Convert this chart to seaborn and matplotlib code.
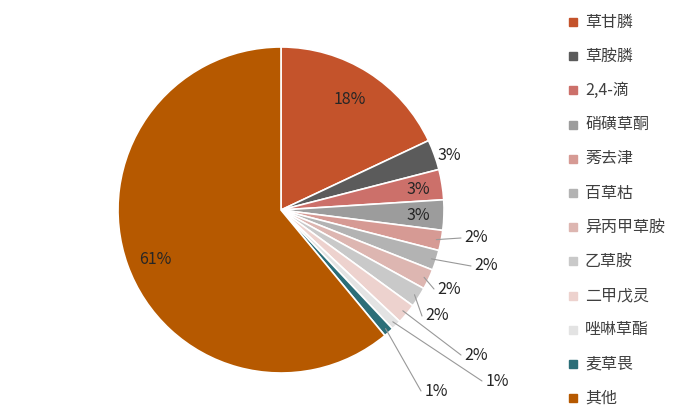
import matplotlib
matplotlib.use("Agg")
import matplotlib.pyplot as plt
import seaborn as sns
import numpy as np

sns.set_theme(style="white")
plt.rcParams['font.family'] = ['Noto Sans CJK SC', 'DejaVu Sans']

labels = ["草甘膦", "草胺膦", "2,4-滴", "硝磺草酮", "莠去津", "百草枯", "异丙甲草胺", "乙草胺", "二甲戊灵", "唑啉草酯", "麦草畏", "其他"]
values = [18, 3, 3, 3, 2, 2, 2, 2, 2, 1, 1, 61]
colors = ["#C4532B", "#5B5B5B", "#CC706A", "#9C9C9C", "#D69A94", "#B3B3B3", "#DDB6B1", "#C9C9C9", "#EDD2CE", "#E3E3E3", "#2B6E78", "#B65900"]

H = 420
fig = plt.figure(figsize=(7, 4.2), dpi=100)
ax = fig.add_axes([0, 0, 1, 1])
cx, cy, R = 281, H - 210, 163
wedges, _ = ax.pie(values, colors=colors, startangle=90, counterclock=False,
                   center=(cx, cy), radius=R, frame=True,
                   wedgeprops=dict(edgecolor="white", linewidth=1.2))
ax.set_xlim(0, 700); ax.set_ylim(0, H); ax.set_aspect("equal"); ax.axis("off")

inside = {0: (350, 100), 11: (155, 260)}
near = {1: (449, 155), 2: (418, 190), 3: (418, 215)}
lead = {4: (476, 238), 5: (486, 266), 6: (449, 289), 7: (437, 316), 8: (476, 355), 9: (497, 381), 10: (436, 391)}
tc = "#262626"
for i, w in enumerate(wedges):
    txt = f"{values[i]}%"
    if i in inside:
        x, y = inside[i]
    elif i in near:
        x, y = near[i]
    else:
        x, y = lead[i]
        a = np.deg2rad((w.theta1 + w.theta2) / 2)
        px, py = cx + R * 0.97 * np.cos(a), cy + R * 0.97 * np.sin(a)
        ax.plot([px, x - 15], [py, H - y], color="#999999", lw=0.8)
    ax.text(x, H - y, txt, ha="center", va="center", fontsize=11.5, color=tc)

for i, lab in enumerate(labels):
    y = H - (22 + i * 34.2)
    ax.add_patch(plt.Rectangle((569, y - 4), 8, 8, color=colors[i]))
    ax.text(585, y, lab, ha="left", va="center", fontsize=11.5, color="#404040")

fig.savefig("out.png", dpi=100)
